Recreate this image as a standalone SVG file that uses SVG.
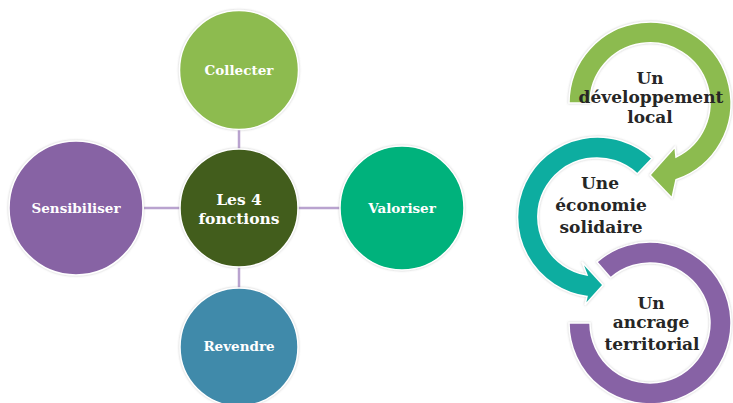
<svg xmlns="http://www.w3.org/2000/svg" width="733" height="403" viewBox="0 0 733 403">
  <defs>
    <filter id="sh" x="-10%" y="-10%" width="120%" height="120%">
      <feDropShadow dx="0" dy="0" stdDeviation="1.2" flood-color="#808080" flood-opacity="0.45"/>
    </filter>
    <style>
      .node { stroke: #ffffff; stroke-width: 1.5; filter: url(#sh); }
      .lbl { font-family: "DejaVu Serif", "Liberation Serif", serif; font-weight: bold; fill: #ffffff; text-anchor: middle; font-size: 13.5px; }
      .ctr { font-size: 15.5px; }
      .conn { stroke: #b9a3cf; stroke-width: 2.5; fill: none; }
      .ring { stroke: #ffffff; stroke-width: 1.5; filter: url(#sh); }
      .rtxt { font-family: "DejaVu Serif", "Liberation Serif", serif; font-weight: bold; fill: #262626; text-anchor: middle; font-size: 17px; }
    </style>
  </defs>
  <rect width="733" height="403" fill="#ffffff"/>

  <g id="connectors">
    <line class="conn" x1="239" y1="129" x2="239" y2="150"/>
    <line class="conn" x1="239" y1="267" x2="239" y2="288"/>
    <line class="conn" x1="144" y1="208" x2="180" y2="208"/>
    <line class="conn" x1="298" y1="208" x2="340" y2="208"/>
  </g>

  <g id="node-collecter">
    <circle class="node" cx="239" cy="70" r="59.5" fill="#8dbb50"/>
    <text class="lbl" x="239" y="75">Collecter</text>
  </g>
  <g id="node-center">
    <circle class="node" cx="239" cy="208" r="59" fill="#435d1d"/>
    <text class="lbl ctr" x="239" y="205">Les 4</text>
    <text class="lbl ctr" x="239" y="224">fonctions</text>
  </g>
  <g id="node-valoriser">
    <circle class="node" cx="402" cy="208" r="62" fill="#00b27b"/>
    <text class="lbl" x="402" y="213">Valoriser</text>
  </g>
  <g id="node-sensibiliser">
    <circle class="node" cx="76" cy="208" r="67" fill="#8763a4"/>
    <text class="lbl" x="76" y="213">Sensibiliser</text>
  </g>
  <g id="node-revendre">
    <circle class="node" cx="239" cy="347" r="59" fill="#418aaa"/>
    <text class="lbl" x="239" y="351">Revendre</text>
  </g>

  <g id="ring-developpement">
    <path class="ring" fill="#8cbb4f" d="M569,103 A81,81 0 1 1 676,179.7 L672,198 L650,175 L675,147 L676,157 A60,60 0 1 0 590,103 Z"/>
    <text class="rtxt" x="650" y="84">Un</text>
    <text class="rtxt" x="651" y="103">développement</text>
    <text class="rtxt" x="650" y="123">local</text>
  </g>
  <g id="ring-economie">
    <path class="ring" fill="#10ada0" d="M652,158.5 A80,80 0 1 0 587,296.4 L585,305 L603,285 L582,262 L587,275.1 A59,59 0 1 1 637.2,173.9 Z"/>
    <text class="rtxt" x="600" y="189">Une</text>
    <text class="rtxt" x="601" y="211">économie</text>
    <text class="rtxt" x="601" y="233">solidaire</text>
  </g>
  <g id="ring-ancrage">
    <path class="ring" fill="#8762a5" d="M596.9,261.9 A81,81 0 1 1 569,323 L590,323 A60,60 0 1 0 610.6,277.7 Z"/>
    <text class="rtxt" x="651" y="309">Un</text>
    <text class="rtxt" x="651" y="328">ancrage</text>
    <text class="rtxt" x="652" y="350">territorial</text>
  </g>
</svg>
